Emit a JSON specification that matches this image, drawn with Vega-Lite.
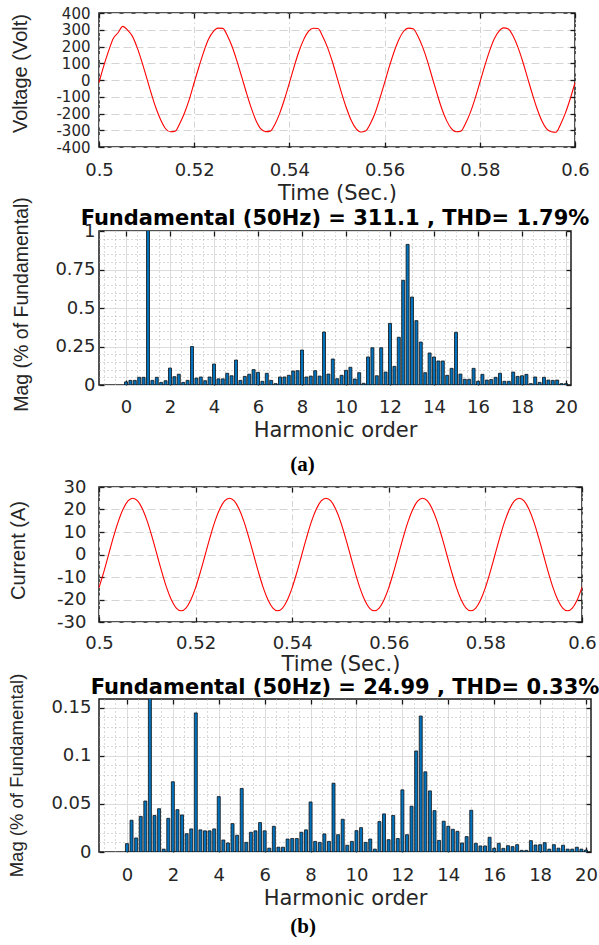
{
  "$schema": "https://vega.github.io/schema/vega-lite/v6.json",
  "background": "white",
  "padding": {"left": 6, "top": 5, "right": 0, "bottom": 0},
  "config": {
    "view": {"stroke": "#1a1a1a", "strokeWidth": 1.5},
    "axis": {
      "labelFont": "DejaVu Sans", "labelFontSize": 18, "labelColor": "#262626",
      "titleFont": "DejaVu Sans", "titleFontSize": 21, "titleFontWeight": "normal", "titleColor": "#262626",
      "labelFlush": false, "labelOverlap": false, "domain": false,
      "tickColor": "#1a1a1a", "tickWidth": 1.3, "tickSize": -5, "labelPadding": 19
    },
    "axisY": {"titleFont": "Liberation Sans", "titleFontSize": 20},
    "title": {"font": "DejaVu Sans", "fontSize": 21, "fontWeight": "bold", "color": "#000000"}
  },
  "title": {"text": "(b)", "orient": "bottom", "anchor": "middle", "font": "Liberation Serif", "fontSize": 21, "fontWeight": "bold", "color": "#000000", "offset": 7},
  "datasets": {
    "voltage": [
      {"t":0.5,"v":-16},{"t":0.501,"v":84},{"t":0.502,"v":172},{"t":0.503,"v":248},{"t":0.504,"v":282},{"t":0.505,"v":320},{"t":0.506,"v":298},{"t":0.507,"v":262},{"t":0.508,"v":195},{"t":0.509,"v":110},
      {"t":0.51,"v":14},{"t":0.511,"v":-82},{"t":0.512,"v":-170},{"t":0.513,"v":-240},{"t":0.514,"v":-291},{"t":0.515,"v":-309},{"t":0.516,"v":-306},{"t":0.517,"v":-258},{"t":0.518,"v":-194},{"t":0.519,"v":-113},
      {"t":0.52,"v":-15},{"t":0.521,"v":79},{"t":0.522,"v":168},{"t":0.523,"v":243},{"t":0.524,"v":289},{"t":0.525,"v":310},{"t":0.526,"v":308},{"t":0.527,"v":263},{"t":0.528,"v":197},{"t":0.529,"v":111},
      {"t":0.53,"v":17},{"t":0.531,"v":-79},{"t":0.532,"v":-168},{"t":0.533,"v":-243},{"t":0.534,"v":-292},{"t":0.535,"v":-308},{"t":0.536,"v":-305},{"t":0.537,"v":-262},{"t":0.538,"v":-196},{"t":0.539,"v":-112},
      {"t":0.54,"v":-17},{"t":0.541,"v":80},{"t":0.542,"v":170},{"t":0.543,"v":241},{"t":0.544,"v":290},{"t":0.545,"v":309},{"t":0.546,"v":307},{"t":0.547,"v":260},{"t":0.548,"v":195},{"t":0.549,"v":112},
      {"t":0.55,"v":16},{"t":0.551,"v":-81},{"t":0.552,"v":-169},{"t":0.553,"v":-242},{"t":0.554,"v":-290},{"t":0.555,"v":-310},{"t":0.556,"v":-304},{"t":0.557,"v":-261},{"t":0.558,"v":-197},{"t":0.559,"v":-110},
      {"t":0.56,"v":-16},{"t":0.561,"v":81},{"t":0.562,"v":169},{"t":0.563,"v":242},{"t":0.564,"v":291},{"t":0.565,"v":310},{"t":0.566,"v":306},{"t":0.567,"v":261},{"t":0.568,"v":196},{"t":0.569,"v":113},
      {"t":0.57,"v":15},{"t":0.571,"v":-80},{"t":0.572,"v":-170},{"t":0.573,"v":-241},{"t":0.574,"v":-289},{"t":0.575,"v":-309},{"t":0.576,"v":-306},{"t":0.577,"v":-260},{"t":0.578,"v":-195},{"t":0.579,"v":-111},
      {"t":0.58,"v":-16},{"t":0.581,"v":80},{"t":0.582,"v":169},{"t":0.583,"v":243},{"t":0.584,"v":290},{"t":0.585,"v":311},{"t":0.586,"v":305},{"t":0.587,"v":262},{"t":0.588,"v":196},{"t":0.589,"v":112},
      {"t":0.59,"v":16},{"t":0.591,"v":-80},{"t":0.592,"v":-169},{"t":0.593,"v":-242},{"t":0.594,"v":-290},{"t":0.595,"v":-309},{"t":0.596,"v":-312},{"t":0.597,"v":-262},{"t":0.598,"v":-196},{"t":0.599,"v":-112},
      {"t":0.6,"v":-16}
    ],
    "current": [
      {"t":0.5,"i":-14.7},{"t":0.501,"i":-7.7},{"t":0.502,"i":0.1},{"t":0.503,"i":7.8},{"t":0.504,"i":14.7},{"t":0.505,"i":20.2},{"t":0.506,"i":23.8},{"t":0.507,"i":25.0},{"t":0.508,"i":23.8},{"t":0.509,"i":20.2},
      {"t":0.51,"i":14.7},{"t":0.511,"i":7.7},{"t":0.512,"i":0.0},{"t":0.513,"i":-7.7},{"t":0.514,"i":-14.7},{"t":0.515,"i":-20.2},{"t":0.516,"i":-23.8},{"t":0.517,"i":-25.0},{"t":0.518,"i":-23.8},{"t":0.519,"i":-20.2},
      {"t":0.52,"i":-14.7},{"t":0.521,"i":-7.7},{"t":0.522,"i":0.0},{"t":0.523,"i":7.7},{"t":0.524,"i":14.7},{"t":0.525,"i":20.2},{"t":0.526,"i":23.8},{"t":0.527,"i":25.0},{"t":0.528,"i":23.8},{"t":0.529,"i":20.2},
      {"t":0.53,"i":14.7},{"t":0.531,"i":7.7},{"t":0.532,"i":0.0},{"t":0.533,"i":-7.7},{"t":0.534,"i":-14.7},{"t":0.535,"i":-20.2},{"t":0.536,"i":-23.8},{"t":0.537,"i":-25.0},{"t":0.538,"i":-23.8},{"t":0.539,"i":-20.2},
      {"t":0.54,"i":-14.7},{"t":0.541,"i":-7.7},{"t":0.542,"i":0.0},{"t":0.543,"i":7.7},{"t":0.544,"i":14.7},{"t":0.545,"i":20.2},{"t":0.546,"i":23.8},{"t":0.547,"i":25.0},{"t":0.548,"i":23.8},{"t":0.549,"i":20.2},
      {"t":0.55,"i":14.7},{"t":0.551,"i":7.7},{"t":0.552,"i":0.0},{"t":0.553,"i":-7.7},{"t":0.554,"i":-14.7},{"t":0.555,"i":-20.2},{"t":0.556,"i":-23.8},{"t":0.557,"i":-25.0},{"t":0.558,"i":-23.8},{"t":0.559,"i":-20.2},
      {"t":0.56,"i":-14.7},{"t":0.561,"i":-7.7},{"t":0.562,"i":0.0},{"t":0.563,"i":7.7},{"t":0.564,"i":14.7},{"t":0.565,"i":20.2},{"t":0.566,"i":23.8},{"t":0.567,"i":25.0},{"t":0.568,"i":23.8},{"t":0.569,"i":20.2},
      {"t":0.57,"i":14.7},{"t":0.571,"i":7.7},{"t":0.572,"i":0.0},{"t":0.573,"i":-7.7},{"t":0.574,"i":-14.7},{"t":0.575,"i":-20.2},{"t":0.576,"i":-23.8},{"t":0.577,"i":-25.0},{"t":0.578,"i":-23.8},{"t":0.579,"i":-20.2},
      {"t":0.58,"i":-14.7},{"t":0.581,"i":-7.7},{"t":0.582,"i":0.0},{"t":0.583,"i":7.7},{"t":0.584,"i":14.7},{"t":0.585,"i":20.2},{"t":0.586,"i":23.8},{"t":0.587,"i":25.0},{"t":0.588,"i":23.8},{"t":0.589,"i":20.2},
      {"t":0.59,"i":14.7},{"t":0.591,"i":7.7},{"t":0.592,"i":0.0},{"t":0.593,"i":-7.7},{"t":0.594,"i":-14.7},{"t":0.595,"i":-20.2},{"t":0.596,"i":-23.8},{"t":0.597,"i":-25.0},{"t":0.598,"i":-23.8},{"t":0.599,"i":-20.2},
      {"t":0.6,"i":-14.6}
    ],
    "vh": [
      {"h":0,"mag":0.02},{"h":0.2,"mag":0.03},{"h":0.4,"mag":0.03},{"h":0.6,"mag":0.05},{"h":0.8,"mag":0.05},
      {"h":1,"mag":100},{"h":1.2,"mag":0.03},{"h":1.4,"mag":0.05},{"h":1.6,"mag":0.017},{"h":1.8,"mag":0.028},
      {"h":2,"mag":0.11},{"h":2.2,"mag":0.054},{"h":2.4,"mag":0.07},{"h":2.6,"mag":0.017},{"h":2.8,"mag":0.03},
      {"h":3,"mag":0.25},{"h":3.2,"mag":0.045},{"h":3.4,"mag":0.052},{"h":3.6,"mag":0.028},{"h":3.8,"mag":0.052},
      {"h":4,"mag":0.136},{"h":4.2,"mag":0.04},{"h":4.4,"mag":0.04},{"h":4.6,"mag":0.076},{"h":4.8,"mag":0.06},
      {"h":5,"mag":0.162},{"h":5.2,"mag":0.03},{"h":5.4,"mag":0.056},{"h":5.6,"mag":0.07},{"h":5.8,"mag":0.1},
      {"h":6,"mag":0.082},{"h":6.2,"mag":0.024},{"h":6.4,"mag":0.076},{"h":6.6,"mag":0.03},{"h":6.8,"mag":0.009},
      {"h":7,"mag":0.052},{"h":7.2,"mag":0.052},{"h":7.4,"mag":0.063},{"h":7.6,"mag":0.091},{"h":7.8,"mag":0.093},
      {"h":8,"mag":0.227},{"h":8.2,"mag":0.052},{"h":8.4,"mag":0.058},{"h":8.6,"mag":0.093},{"h":8.8,"mag":0.058},
      {"h":9,"mag":0.344},{"h":9.2,"mag":0.071},{"h":9.4,"mag":0.169},{"h":9.6,"mag":0.041},{"h":9.8,"mag":0.063},
      {"h":10,"mag":0.095},{"h":10.2,"mag":0.115},{"h":10.4,"mag":0.039},{"h":10.6,"mag":0.08},{"h":10.8,"mag":0.011},
      {"h":11,"mag":0.182},{"h":11.2,"mag":0.242},{"h":11.4,"mag":0.06},{"h":11.6,"mag":0.242},{"h":11.8,"mag":0.084},
      {"h":12,"mag":0.4},{"h":12.2,"mag":0.121},{"h":12.4,"mag":0.31},{"h":12.6,"mag":0.68},{"h":12.8,"mag":0.913},
      {"h":13,"mag":0.571},{"h":13.2,"mag":0.418},{"h":13.4,"mag":0.279},{"h":13.6,"mag":0.08},{"h":13.8,"mag":0.208},
      {"h":14,"mag":0.182},{"h":14.2,"mag":0.156},{"h":14.4,"mag":0.156},{"h":14.6,"mag":0.063},{"h":14.8,"mag":0.108},
      {"h":15,"mag":0.342},{"h":15.2,"mag":0.071},{"h":15.4,"mag":0.037},{"h":15.6,"mag":0.037},{"h":15.8,"mag":0.108},
      {"h":16,"mag":0.024},{"h":16.2,"mag":0.069},{"h":16.4,"mag":0.032},{"h":16.6,"mag":0.035},{"h":16.8,"mag":0.05},
      {"h":17,"mag":0.076},{"h":17.2,"mag":0.024},{"h":17.4,"mag":0.024},{"h":17.6,"mag":0.084},{"h":17.8,"mag":0.056},
      {"h":18,"mag":0.06},{"h":18.2,"mag":0.069},{"h":18.4,"mag":0.009},{"h":18.6,"mag":0.052},{"h":18.8,"mag":0.017},
      {"h":19,"mag":0.05},{"h":19.2,"mag":0.032},{"h":19.4,"mag":0.03},{"h":19.6,"mag":0.032},{"h":19.8,"mag":0.009},
      {"h":20,"mag":0.009}
    ],
    "ch": [
      {"h":0,"mag":0.0087},{"h":0.2,"mag":0.033},{"h":0.4,"mag":0.0146},{"h":0.6,"mag":0.037},{"h":0.8,"mag":0.053},
      {"h":1,"mag":100},{"h":1.2,"mag":0.038},{"h":1.4,"mag":0.045},{"h":1.6,"mag":0.003},{"h":1.8,"mag":0.035},
      {"h":2,"mag":0.073},{"h":2.2,"mag":0.044},{"h":2.4,"mag":0.0385},{"h":2.6,"mag":0.019},{"h":2.8,"mag":0.024},
      {"h":3,"mag":0.1445},{"h":3.2,"mag":0.023},{"h":3.4,"mag":0.022},{"h":3.6,"mag":0.022},{"h":3.8,"mag":0.024},
      {"h":4,"mag":0.0576},{"h":4.2,"mag":0.0125},{"h":4.4,"mag":0.0094},{"h":4.6,"mag":0.0295},{"h":4.8,"mag":0.0174},
      {"h":5,"mag":0.066},{"h":5.2,"mag":0.01},{"h":5.4,"mag":0.0205},{"h":5.6,"mag":0.022},{"h":5.8,"mag":0.0306},
      {"h":6,"mag":0.022},{"h":6.2,"mag":0.004},{"h":6.4,"mag":0.0267},{"h":6.6,"mag":0.005},{"h":6.8,"mag":0.005},
      {"h":7,"mag":0.0135},{"h":7.2,"mag":0.014},{"h":7.4,"mag":0.014},{"h":7.6,"mag":0.0205},{"h":7.8,"mag":0.023},
      {"h":8,"mag":0.052},{"h":8.2,"mag":0.011},{"h":8.4,"mag":0.01},{"h":8.6,"mag":0.0188},{"h":8.8,"mag":0.011},
      {"h":9,"mag":0.0715},{"h":9.2,"mag":0.018},{"h":9.4,"mag":0.034},{"h":9.6,"mag":0.007},{"h":9.8,"mag":0.011},
      {"h":10,"mag":0.0222},{"h":10.2,"mag":0.0253},{"h":10.4,"mag":0.01},{"h":10.6,"mag":0.0135},{"h":10.8,"mag":0.003},
      {"h":11,"mag":0.0316},{"h":11.2,"mag":0.0396},{"h":11.4,"mag":0.0128},{"h":11.6,"mag":0.038},{"h":11.8,"mag":0.014},
      {"h":12,"mag":0.0646},{"h":12.2,"mag":0.018},{"h":12.4,"mag":0.0476},{"h":12.6,"mag":0.105},{"h":12.8,"mag":0.1413},
      {"h":13,"mag":0.0833},{"h":13.2,"mag":0.0635},{"h":13.4,"mag":0.043},{"h":13.6,"mag":0.012},{"h":13.8,"mag":0.032},
      {"h":14,"mag":0.0267},{"h":14.2,"mag":0.0236},{"h":14.4,"mag":0.0215},{"h":14.6,"mag":0.0094},{"h":14.8,"mag":0.016},
      {"h":15,"mag":0.0434},{"h":15.2,"mag":0.009},{"h":15.4,"mag":0.0063},{"h":15.6,"mag":0.0063},{"h":15.8,"mag":0.0153},
      {"h":16,"mag":0.0038},{"h":16.2,"mag":0.009},{"h":16.4,"mag":0.0038},{"h":16.6,"mag":0.0066},{"h":16.8,"mag":0.0056},
      {"h":17,"mag":0.0076},{"h":17.2,"mag":0.0017},{"h":17.4,"mag":0.0017},{"h":17.6,"mag":0.0118},{"h":17.8,"mag":0.0073},
      {"h":18,"mag":0.0076},{"h":18.2,"mag":0.0097},{"h":18.4,"mag":0.003},{"h":18.6,"mag":0.0076},{"h":18.8,"mag":0.004},
      {"h":19,"mag":0.007},{"h":19.2,"mag":0.003},{"h":19.4,"mag":0.003},{"h":19.6,"mag":0.005},{"h":19.8,"mag":0.003},
      {"h":20,"mag":0.002}
    ]
  },
  "spacing": 12,
  "vconcat": [
    {
      "spacing": -9,
      "vconcat": [
        {
          "width": 476, "height": 134,
          "data": {"name": "voltage"},
          "layer": [
            {
              "mark": {"type": "line", "color": "#ff0000", "strokeWidth": 1.1, "interpolate": "monotone"},
              "encoding": {
                "x": {"field": "t", "type": "quantitative", "scale": {"domain": [0.5, 0.6], "nice": false, "zero": false},
                      "axis": {"title": "Time (Sec.)", "values": [0.5, 0.52, 0.54, 0.56, 0.58, 0.6], "labelExpr": "format(datum.value, '~g')",
                               "grid": true, "gridColor": "#d4d4d4", "gridDash": [6, 3, 1.5, 3], "labelPadding": 19, "titlePadding": 3}},
                "y": {"field": "v", "type": "quantitative", "scale": {"domain": [-400, 400], "nice": false},
                      "axis": {"title": "Voltage (Volt)", "values": [-400, -300, -200, -100, 0, 100, 200, 300, 400],
                               "labelExpr": "replace(format(datum.value, '~g'), '\u2212', '-')", "labelFontSize": 15, "labelPadding": 14,
                               "grid": true, "gridColor": "#d4d4d4", "gridDash": [8, 4],
                               "titleAngle": -90, "titleBaseline": "top", "titleX": -89, "titleY": 60}}
              }
            },
            {
              "mark": {"type": "line", "opacity": 0, "interpolate": "monotone"},
              "encoding": {
                "x": {"field": "t", "type": "quantitative", "axis": {"orient": "top", "title": null, "labels": false, "grid": false, "values": [0.5, 0.52, 0.54, 0.56, 0.58, 0.6]}},
                "y": {"field": "v", "type": "quantitative", "axis": {"orient": "right", "title": null, "labels": false, "grid": false, "values": [-400, -300, -200, -100, 0, 100, 200, 300, 400]}}
              }
            }
          ],
          "resolve": {"axis": {"x": "independent", "y": "independent"}}
        },
        {
          "width": 472, "height": 154,
          "title": {"text": "Fundamental (50Hz) = 311.1 , THD= 1.79%", "anchor": "middle", "frame": "group", "offset": -32},
          "data": {"name": "vh"},
          "layer": [
            {
              "mark": {"type": "bar", "size": 3, "fill": "#0072BD", "stroke": "#111111", "strokeWidth": 0.8, "clip": true},
              "encoding": {
                "x": {"field": "h", "type": "quantitative", "scale": {"domain": [-1, 20], "nice": false, "zero": false},
                      "axis": {"title": "Harmonic order",
                               "values": [-1,-0.5,0,0.5,1,1.5,2,2.5,3,3.5,4,4.5,5,5.5,6,6.5,7,7.5,8,8.5,9,9.5,10,10.5,11,11.5,12,12.5,13,13.5,14,14.5,15,15.5,16,16.5,17,17.5,18,18.5,19,19.5,20],
                               "labelExpr": "datum.value >= 0 && abs(datum.value/2 - round(datum.value/2)) < 0.001 ? format(datum.value, '~g') : ''",
                               "grid": true,
                               "gridColor": {"condition": {"test": "datum.value >= 0 && abs(datum.value/2 - round(datum.value/2)) < 0.001", "value": "#dcdcdc"}, "value": "#b5b5b5"},
                               "gridDash": {"condition": {"test": "datum.value >= 0 && abs(datum.value/2 - round(datum.value/2)) < 0.001", "value": []}, "value": [1, 3]},
                               "tickOpacity": {"condition": {"test": "datum.value >= 0 && abs(datum.value/2 - round(datum.value/2)) < 0.001", "value": 1}, "value": 0},
                               "labelPadding": 18, "titlePadding": 3}},
                "y": {"field": "mag", "type": "quantitative", "scale": {"domain": [0, 1], "nice": false},
                      "axis": {"title": "Mag (% of Fundamental)",
                               "values": [0,0.05,0.1,0.15,0.2,0.25,0.3,0.35,0.4,0.45,0.5,0.55,0.6,0.65,0.7,0.75,0.8,0.85,0.9,0.95,1],
                               "labelExpr": "abs(datum.value*4 - round(datum.value*4)) < 0.001 ? format(datum.value, '~g') : ''",
                               "labelPadding": 9,
                               "grid": true,
                               "gridColor": {"condition": {"test": "abs(datum.value*4 - round(datum.value*4)) < 0.001", "value": "#dcdcdc"}, "value": "#b5b5b5"},
                               "gridDash": {"condition": {"test": "abs(datum.value*4 - round(datum.value*4)) < 0.001", "value": []}, "value": [1, 3]},
                               "tickOpacity": {"condition": {"test": "abs(datum.value*4 - round(datum.value*4)) < 0.001", "value": 1}, "value": 0},
                               "titleFontSize": 19.5, "titleAngle": -90, "titleBaseline": "top", "titleX": -87, "titleY": 73}}
              }
            },
            {
              "mark": {"type": "bar", "size": 3, "opacity": 0, "clip": true},
              "encoding": {
                "x": {"field": "h", "type": "quantitative", "axis": {"orient": "top", "title": null, "labels": false, "grid": false, "values": [0,2,4,6,8,10,12,14,16,18,20]}},
                "y": {"field": "mag", "type": "quantitative", "axis": {"orient": "right", "title": null, "labels": false, "grid": false, "values": [0, 0.25, 0.5, 0.75, 1]}}
              }
            }
          ],
          "resolve": {"axis": {"x": "independent", "y": "independent"}}
        }
      ]
    },
    {
      "spacing": -3,
      "vconcat": [
        {
          "width": 483, "height": 135,
          "title": {"text": "(a)", "anchor": "middle", "frame": "group", "font": "Liberation Serif", "fontSize": 21, "fontWeight": "bold", "offset": 3, "dx": -38},
          "data": {"name": "current"},
          "layer": [
            {
              "mark": {"type": "line", "color": "#ff0000", "strokeWidth": 1.1, "interpolate": "monotone"},
              "encoding": {
                "x": {"field": "t", "type": "quantitative", "scale": {"domain": [0.5, 0.6], "nice": false, "zero": false},
                      "axis": {"title": "Time (Sec.)", "values": [0.5, 0.52, 0.54, 0.56, 0.58, 0.6], "labelExpr": "format(datum.value, '~g')",
                               "grid": true, "gridColor": "#d4d4d4", "gridDash": [6, 3, 1.5, 3], "labelPadding": 17, "titlePadding": 1}},
                "y": {"field": "i", "type": "quantitative", "scale": {"domain": [-30, 30], "nice": false},
                      "axis": {"title": "Current (A)", "values": [-30, -20, -10, 0, 10, 20, 30],
                               "labelExpr": "replace(format(datum.value, '~g'), '\u2212', '-')", "labelPadding": 18,
                               "grid": true, "gridColor": "#d4d4d4", "gridDash": [8, 4],
                               "titleAngle": -90, "titleBaseline": "top", "titleX": -91, "titleY": 63}}
              }
            },
            {
              "mark": {"type": "line", "opacity": 0, "interpolate": "monotone"},
              "encoding": {
                "x": {"field": "t", "type": "quantitative", "axis": {"orient": "top", "title": null, "labels": false, "grid": false, "values": [0.5, 0.52, 0.54, 0.56, 0.58, 0.6]}},
                "y": {"field": "i", "type": "quantitative", "axis": {"orient": "right", "title": null, "labels": false, "grid": false, "values": [-30, -20, -10, 0, 10, 20, 30]}}
              }
            }
          ],
          "resolve": {"axis": {"x": "independent", "y": "independent"}}
        },
        {
          "width": 492, "height": 153,
          "title": {"text": "Fundamental (50Hz) = 24.99 , THD= 0.33%", "anchor": "middle", "frame": "group", "offset": -25},
          "data": {"name": "ch"},
          "layer": [
            {
              "mark": {"type": "bar", "size": 3, "fill": "#0072BD", "stroke": "#111111", "strokeWidth": 0.8, "clip": true},
              "encoding": {
                "x": {"field": "h", "type": "quantitative", "scale": {"domain": [-1, 20], "nice": false, "zero": false},
                      "axis": {"title": "Harmonic order",
                               "values": [-1,-0.5,0,0.5,1,1.5,2,2.5,3,3.5,4,4.5,5,5.5,6,6.5,7,7.5,8,8.5,9,9.5,10,10.5,11,11.5,12,12.5,13,13.5,14,14.5,15,15.5,16,16.5,17,17.5,18,18.5,19,19.5,20],
                               "labelExpr": "datum.value >= 0 && abs(datum.value/2 - round(datum.value/2)) < 0.001 ? format(datum.value, '~g') : ''",
                               "grid": true,
                               "gridColor": {"condition": {"test": "datum.value >= 0 && abs(datum.value/2 - round(datum.value/2)) < 0.001", "value": "#dcdcdc"}, "value": "#b5b5b5"},
                               "gridDash": {"condition": {"test": "datum.value >= 0 && abs(datum.value/2 - round(datum.value/2)) < 0.001", "value": []}, "value": [1, 3]},
                               "tickOpacity": {"condition": {"test": "datum.value >= 0 && abs(datum.value/2 - round(datum.value/2)) < 0.001", "value": 1}, "value": 0},
                               "labelPadding": 19, "titlePadding": 3}},
                "y": {"field": "mag", "type": "quantitative", "scale": {"domain": [0, 0.159], "nice": false},
                      "axis": {"title": "Mag (% of Fundamental)",
                               "values": [0,0.01,0.02,0.03,0.04,0.05,0.06,0.07,0.08,0.09,0.1,0.11,0.12,0.13,0.14,0.15],
                               "labelExpr": "abs(datum.value*20 - round(datum.value*20)) < 0.001 ? format(datum.value, '~g') : ''",
                               "labelPadding": 13,
                               "grid": true,
                               "gridColor": {"condition": {"test": "abs(datum.value*20 - round(datum.value*20)) < 0.001", "value": "#dcdcdc"}, "value": "#b5b5b5"},
                               "gridDash": {"condition": {"test": "abs(datum.value*20 - round(datum.value*20)) < 0.001", "value": []}, "value": [1, 3]},
                               "tickOpacity": {"condition": {"test": "abs(datum.value*20 - round(datum.value*20)) < 0.001", "value": 1}, "value": 0},
                               "titleFontSize": 18.5, "titleAngle": -90, "titleBaseline": "top", "titleX": -92, "titleY": 76}}
              }
            },
            {
              "mark": {"type": "bar", "size": 3, "opacity": 0, "clip": true},
              "encoding": {
                "x": {"field": "h", "type": "quantitative", "axis": {"orient": "top", "title": null, "labels": false, "grid": false, "values": [0,2,4,6,8,10,12,14,16,18,20]}},
                "y": {"field": "mag", "type": "quantitative", "axis": {"orient": "right", "title": null, "labels": false, "grid": false, "values": [0, 0.05, 0.1, 0.15]}}
              }
            }
          ],
          "resolve": {"axis": {"x": "independent", "y": "independent"}}
        }
      ]
    }
  ]
}
